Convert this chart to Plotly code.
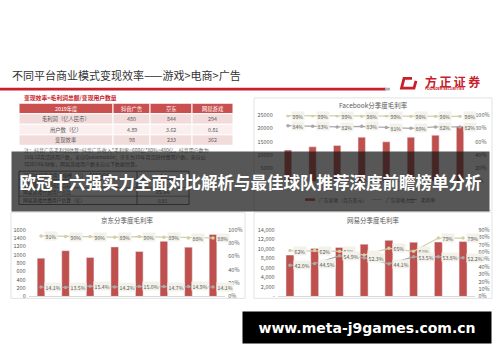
import plotly.graph_objects as go

W, H = 500, 362
def px(x): return x / W
def py(y): return 1 - y / H

# ---------------- data ----------------
quarters = ["2018Q1", "2018Q2", "2018Q3", "2018Q4", "2019Q1", "2019Q2", "2019Q3", "2019Q4"]

fb_ad_revenue = [11795, 13038, 13539, 16640, 14912, 16624, 17383, 20736]
fb_ad_share = [0.99, 0.99, 0.99, 0.98, 0.99, 0.98, 0.98, 0.98]
fb_gross_margin = [0.84, 0.83, 0.82, 0.83, 0.81, 0.80, 0.82, 0.82]

jd_bars = [920, 1100, 935, 1190, 1080, 1325, 1185, 1490]
jd_upper = [0.91, 0.90, 0.90, 0.89, 0.90, 0.89, 0.88, 0.88]
jd_gross_margin = [0.141, 0.135, 0.154, 0.142, 0.150, 0.147, 0.149, 0.141]

ne_bars = [8700, 10100, 10300, 11000, 11800, 11400, 11450, 11550]
ne_upper = [0.62, 0.62, 0.61, 0.56, 0.65, 0.61, 0.79, 0.79]
ne_gross_margin = [0.420, 0.445, 0.549, 0.523, 0.441, 0.535, 0.538, 0.522]

table_header = ["2019年度", "抖音广告", "京东", "网易游戏"]
table_rows = ["毛利润（亿人民币）", "用户数（亿）", "变现效率"]
table_douyin = ["480", "4.89", "98"]
table_jd = ["844", "3.62", "233"]
table_netease = ["294", "0.81", "362"]

game_rows = ["2019中国游戏用户规模（亿）- GPC&IDC", "中国游戏付费用户占比", "网易游戏付费用户占比", "网易游戏付费用户估算（亿）"]
game_vals = ["6.4", "50%", "25.3%", "0.81"]

notes = [
    "注：抖音广告毛利润估算=抖音广告收入*毛利率=600亿*80%=480亿，抖音用户数为",
    "19年12月活跃用户数，来自Questmobile；京东为19年月活跃付费用户数，来自公",
    "司2019年财报，网易游戏用户数来自以下数据估算。",
]

# ---------------- styles ----------------
CJK = "Noto Sans CJK SC"
BAR = "#c0504d"
KHAKI = "#d3cfa6"
GREYL = "#a9a9a9"
TXT = "#595959"
RED = "#c8202a"
LBL_BG = "#f3f2ea"
TICKF = dict(family=CJK, size=5.5, color=TXT)

fig = go.Figure()

# Facebook chart
fig.add_trace(go.Bar(x=quarters, y=fb_ad_revenue, marker_color=BAR, width=0.3,
                     xaxis="x", yaxis="y", name="广告营收（百万美元）", showlegend=False))
fig.add_trace(go.Scatter(x=quarters, y=fb_ad_share, mode="lines+markers", xaxis="x", yaxis="y2",
                         line=dict(color=KHAKI, width=1.2), marker=dict(size=3.5, color=KHAKI),
                         name="广告营收占比", showlegend=False))
fig.add_trace(go.Scatter(x=quarters, y=fb_gross_margin, mode="lines+markers", xaxis="x", yaxis="y2",
                         line=dict(color=GREYL, width=1.2), marker=dict(size=3.5, color=GREYL),
                         name="毛利率", showlegend=False))
# JD chart
fig.add_trace(go.Bar(x=quarters, y=jd_bars, marker_color=BAR, width=0.31,
                     xaxis="x2", yaxis="y3", showlegend=False))
fig.add_trace(go.Scatter(x=quarters, y=jd_upper, mode="lines+markers", xaxis="x2", yaxis="y4",
                         line=dict(color=KHAKI, width=1.2), marker=dict(size=3.5, color=KHAKI), showlegend=False))
fig.add_trace(go.Scatter(x=quarters, y=jd_gross_margin, mode="lines+markers", xaxis="x2", yaxis="y4",
                         line=dict(color=GREYL, width=1.2), marker=dict(size=3.5, color=GREYL), showlegend=False))
# NetEase chart
fig.add_trace(go.Bar(x=quarters, y=ne_bars, marker_color=BAR, width=0.32,
                     xaxis="x3", yaxis="y5", showlegend=False))
fig.add_trace(go.Scatter(x=quarters, y=ne_upper, mode="lines+markers", xaxis="x3", yaxis="y6",
                         line=dict(color=KHAKI, width=1.2), marker=dict(size=3.5, color=KHAKI), showlegend=False))
fig.add_trace(go.Scatter(x=quarters, y=ne_gross_margin, mode="lines+markers", xaxis="x3", yaxis="y6",
                         line=dict(color=GREYL, width=1.2), marker=dict(size=3.5, color=GREYL), showlegend=False))

def xa(l, r, anchor):
    return dict(domain=[px(l), px(r)], anchor=anchor, type="category", range=[-0.5, 7.5],
                showticklabels=False, ticks="", showgrid=False, zeroline=False,
                showline=True, linecolor="#d9d9d9", linewidth=0.8)

def ya_left(top, bottom, rng, dtick, anchor, **kw):
    d = dict(domain=[py(bottom), py(top)], anchor=anchor, range=rng, dtick=dtick, tickformat="d",
             showgrid=False, zeroline=False, ticks="", tickfont=TICKF, ticklabelstandoff=2)
    d.update(kw)
    return d

def ya_right(over, rng, dtick, anchor):
    return dict(overlaying=over, side="right", anchor=anchor, range=rng, dtick=dtick, tickformat=".0%",
                showgrid=False, zeroline=False, ticks="", tickfont=TICKF, ticklabelstandoff=2)

ne_ticks = list(range(0, 14001, 2000))
ne_ticktext = ["-"] + [f"{v:,}" for v in ne_ticks[1:]]

# table laid out on its own hidden axes: column width units, one unit per row
col_w = [94, 37, 42, 41]
col_edges = [sum(col_w[:i]) for i in range(len(col_w) + 1)]
n_rows = 1 + len(table_rows)

fig.update_layout(
    width=W, height=H, margin=dict(l=0, r=0, t=0, b=0),
    paper_bgcolor="white", plot_bgcolor="rgba(0,0,0,0)",
    xaxis=xa(275.7, 472.3, "y"),
    yaxis=ya_left(113.5, 181.5, [0, 25000], 5000, "x"),
    yaxis2=ya_right("y", [0, 1], 0.2, "x"),
    xaxis2=xa(28.7, 225.3, "y3"),
    yaxis3=ya_left(231, 299, [0, 1600], 200, "x2"),
    yaxis4=ya_right("y3", [0, 1], 0.2, "x2"),
    xaxis3=xa(277.6, 475.4, "y5"),
    yaxis5=ya_left(231, 299, [0, 14000], None, "x3", tickvals=ne_ticks, ticktext=ne_ticktext),
    yaxis6=ya_right("y5", [0, 0.9], 0.1, "x3"),
    xaxis4=dict(domain=[px(19), px(233)], range=[0, col_edges[-1]], visible=False, anchor="y7"),
    yaxis7=dict(domain=[py(144.5), py(101.5)], range=[n_rows, 0], visible=False, anchor="x4"),
)

shapes = []
annotations = []

# table cells
table_cols = [table_rows, table_douyin, table_jd, table_netease]
row_fill = ["#f2dcdb", "#faeeee", "#f2dcdb"]
for c in range(len(col_w)):
    xm = (col_edges[c] + col_edges[c + 1]) / 2
    for r in range(n_rows):
        fill = "#c9504f" if r == 0 else row_fill[r - 1]
        shapes.append(dict(type="rect", xref="x4", yref="y7", x0=col_edges[c], x1=col_edges[c + 1],
                           y0=r, y1=r + 1, fillcolor=fill, line=dict(color="white", width=1), layer="below"))
        s = table_header[c] if r == 0 else table_cols[c][r - 1]
        annotations.append(dict(xref="x4", yref="y7", x=xm, y=r + 0.5, text=s, showarrow=False,
                                xanchor="center", yanchor="middle",
                                font=dict(family=CJK, size=5.3, color="white" if r == 0 else TXT)))

def rect(x0, y0, x1, y1, **kw):
    d = dict(type="rect", xref="paper", yref="paper", x0=px(x0), y0=py(y0), x1=px(x1), y1=py(y1))
    d.update(kw)
    shapes.append(d)
def line(x0, y0, x1, y1, color, width):
    shapes.append(dict(type="line", xref="paper", yref="paper", x0=px(x0), y0=py(y0), x1=px(x1), y1=py(y1),
                       line=dict(color=color, width=width)))

# chart panels
for (l, t, r, b) in [(254, 96, 492, 211), (11, 213, 245, 301), (254, 213, 492, 301)]:
    rect(l, t, r, b, fillcolor="white", line=dict(color="#e2e2e2", width=1), layer="below")
# title rule
line(0, 87, 386, 87, RED, 2.6)
line(385, 87, 390, 87, "#b0b0b0", 2.6)
# logo mark
shapes.append(dict(type="path", xref="paper", yref="paper",
                   path=f"M {px(412)},{py(76)} L {px(404)},{py(76)} L {px(401.5)},{py(86)} L {px(414)},{py(86)} L {px(416)},{py(78.5)}",
                   line=dict(color=RED, width=2.8)))
# small game table grid
rect(19, 171, 189, 205, line=dict(color="#444", width=0.8))
line(137, 171, 137, 205, "#444", 0.8)
for yy in [179.5, 188, 196.5]:
    line(19, yy, 189, yy, "#444", 0.6)
# FB legend symbols
rect(305, 198.7, 315, 201.3, fillcolor=BAR, line=dict(width=0))
line(372, 200, 382, 200, KHAKI, 1.2)
line(407, 200, 417, 200, GREYL, 1.2)

def text(x, y, s, size, color=TXT, anchor="left", **kw):
    d = dict(xref="paper", yref="paper", x=px(x), y=py(y), text=s, showarrow=False,
             xanchor=anchor, yanchor="middle", font=dict(family=CJK, size=size, color=color))
    d.update(kw)
    annotations.append(d)

text(10, 73, "不同平台商业模式变现效率——游戏>电商>广告", 11, "#333333")
text(423, 79, "<b>方\u2009正\u2009证\u2009券</b>", 12, RED)
text(423, 86.6, "<b>FOUNDER SECURITIES</b>", 3.6, RED)
text(22, 96, "<b>变现效率=毛利润总额/变现用户数量</b>", 5.8, RED)
for i, s in enumerate(notes):
    text(22, 149.5 + i * 7.3, s, 5.0, "#666666")
for i, (r, v) in enumerate(zip(game_rows, game_vals)):
    yy = 175.2 + i * 8.5
    text(21, yy, r, 4.8, "#444444")
    text(163, yy, v, 4.8, "#444444", anchor="center")

# chart titles
text(373, 103, "Facebook分季度毛利率", 6.5, TXT, anchor="center")
text(127, 221, "京东分季度毛利率", 6.5, TXT, anchor="center")
text(373, 221, "网易分季度毛利率", 6.5, TXT, anchor="center")

# data labels
def labels(xref, yref, values, fmt):
    for q, v in zip(quarters, values):
        annotations.append(dict(xref=xref, yref=yref, x=q, y=v, text=fmt.format(v), showarrow=False,
                                xanchor="left", yanchor="middle", xshift=3,
                                bgcolor=LBL_BG, borderpad=0.6,
                                font=dict(family=CJK, size=5.2, color=TXT)))
labels("x", "y2", fb_ad_share, "{:.0%}")
labels("x", "y2", fb_gross_margin, "{:.0%}")
labels("x2", "y4", jd_upper, "{:.0%}")
labels("x2", "y4", jd_gross_margin, "{:.1%}")
labels("x3", "y6", ne_upper, "{:.0%}")
labels("x3", "y6", ne_gross_margin, "{:.1%}")

# FB legend text
text(317, 200, "广告营收（百万美元）", 4.8, TXT)
text(383.5, 200, "广告营收占比", 4.8, TXT)
text(418.5, 200, "毛利率", 4.8, TXT)

# overlay banner (drawn on top of everything above)
annotations.append(dict(xref="paper", yref="paper", x=px(250.5), y=py(181.5), xanchor="center", yanchor="middle",
                        width=477, height=59, bgcolor="rgba(22,22,22,0.72)", showarrow=False, borderpad=0,
                        text="<b>欧冠十六强实力全面对比解析与最佳球队推荐深度前瞻榜单分析</b>",
                        font=dict(family=CJK, size=16.5, color="white")))
# watermark
annotations.append(dict(xref="paper", yref="paper", x=px(367), y=py(330.5), xanchor="center", yanchor="middle",
                        width=248, height=31, bgcolor="black", showarrow=False, borderpad=0,
                        text="<b>www.meta-j9games.com.cn</b>",
                        font=dict(family="DejaVu Sans", size=14, color="white")))

fig.update_layout(shapes=shapes, annotations=annotations)
fig.write_html("out.html")
